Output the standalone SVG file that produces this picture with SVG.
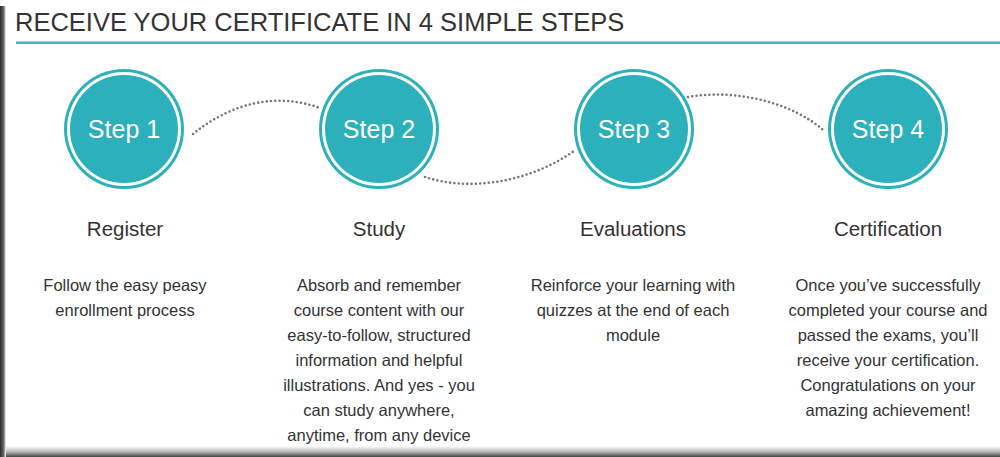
<svg xmlns="http://www.w3.org/2000/svg" width="1000" height="457" viewBox="0 0 1000 457">
<defs>
<linearGradient id="lg" x1="0" y1="0" x2="1" y2="0">
<stop offset="0" stop-color="#2a2a2a"/><stop offset="0.6" stop-color="#666"/><stop offset="1" stop-color="#fff"/>
</linearGradient>
<linearGradient id="bg" x1="0" y1="0" x2="0" y2="1">
<stop offset="0" stop-color="#fff"/><stop offset="0.5" stop-color="#bbb"/><stop offset="1" stop-color="#444"/>
</linearGradient>
<style>
.title{font-family:"Liberation Sans",Arial,sans-serif;font-size:25.5px;fill:#333}
.num{font-family:"Liberation Sans",Arial,sans-serif;font-size:25px;fill:#fff;text-anchor:middle}
.head{font-family:"Liberation Sans",Arial,sans-serif;font-size:20.5px;fill:#333;text-anchor:middle}
.body{font-family:"Liberation Sans",Arial,sans-serif;font-size:16.5px;fill:#333;text-anchor:middle}
.ring{fill:#2cb0bb}
.gap{fill:#fff}
.dot{fill:none;stroke:#777;stroke-width:2.6;stroke-linecap:round;stroke-dasharray:0 4.3}
</style>
</defs>
<rect width="1000" height="457" fill="#fff"/>
<rect x="0" y="446" width="1000" height="11" fill="url(#bg)"/>
<rect x="0" y="6" width="6" height="451" fill="url(#lg)"/>
<g id="header">
<text class="title" x="15" y="31">RECEIVE YOUR CERTIFICATE IN 4 SIMPLE STEPS</text>
<rect x="16" y="41.5" width="984" height="2.5" fill="#3bb6c0"/>
</g>
<g id="connectors">
<path class="dot" d="M193,134 C225,108 270,90 320,108"/>
<path class="dot" d="M425,177 C470,192 530,182 574,151"/>
<path class="dot" d="M688,97 C740,88 795,105 823,130"/>
</g>
<g id="step1">
<circle class="ring" cx="124" cy="129" r="60"/><circle class="gap" cx="124" cy="129" r="57"/><circle class="ring" cx="124" cy="129" r="54"/>
<text class="num" x="124" y="138">Step 1</text>
<text class="head" x="125" y="236">Register</text>
<text class="body" x="125" y="291">Follow the easy peasy</text>
<text class="body" x="125" y="316">enrollment process</text>
</g>
<g id="step2">
<circle class="ring" cx="379" cy="129" r="60"/><circle class="gap" cx="379" cy="129" r="57"/><circle class="ring" cx="379" cy="129" r="54"/>
<text class="num" x="379" y="138">Step 2</text>
<text class="head" x="379" y="236">Study</text>
<text class="body" x="379" y="291">Absorb and remember</text>
<text class="body" x="379" y="316">course content with our</text>
<text class="body" x="379" y="341">easy-to-follow, structured</text>
<text class="body" x="379" y="366">information and helpful</text>
<text class="body" x="379" y="391">illustrations. And yes - you</text>
<text class="body" x="379" y="416">can study anywhere,</text>
<text class="body" x="379" y="441">anytime, from any device</text>
</g>
<g id="step3">
<circle class="ring" cx="634" cy="129" r="60"/><circle class="gap" cx="634" cy="129" r="57"/><circle class="ring" cx="634" cy="129" r="54"/>
<text class="num" x="634" y="138">Step 3</text>
<text class="head" x="633" y="236">Evaluations</text>
<text class="body" x="633" y="291">Reinforce your learning with</text>
<text class="body" x="633" y="316">quizzes at the end of each</text>
<text class="body" x="633" y="341">module</text>
</g>
<g id="step4">
<circle class="ring" cx="888" cy="129" r="60"/><circle class="gap" cx="888" cy="129" r="57"/><circle class="ring" cx="888" cy="129" r="54"/>
<text class="num" x="888" y="138">Step 4</text>
<text class="head" x="888" y="236">Certification</text>
<text class="body" x="888" y="291">Once you’ve successfully</text>
<text class="body" x="888" y="316">completed your course and</text>
<text class="body" x="888" y="341">passed the exams, you’ll</text>
<text class="body" x="888" y="366">receive your certification.</text>
<text class="body" x="888" y="391">Congratulations on your</text>
<text class="body" x="888" y="416">amazing achievement!</text>
</g>
</svg>
